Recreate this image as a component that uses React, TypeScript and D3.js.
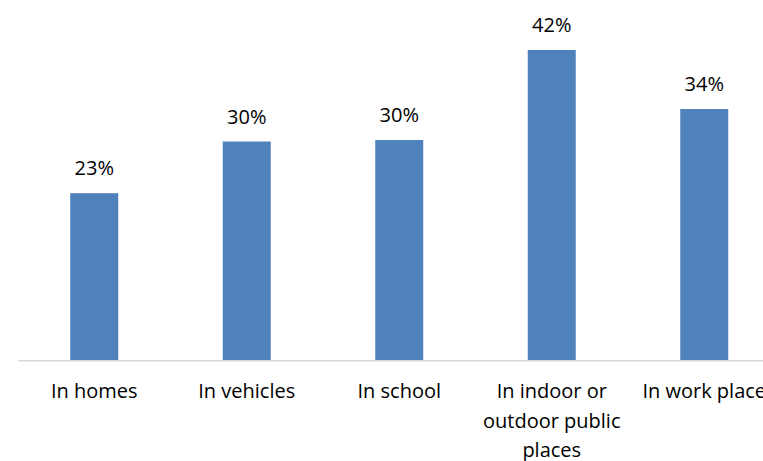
import React, { useEffect, useRef } from "react";
import * as d3 from "d3";

const categories = [
  "In homes",
  "In vehicles",
  "In school",
  "In indoor or outdoor public places",
  "In work place",
];
const values = [22.6, 29.6, 29.8, 42.0, 34.0];
const valueLabels = ["23%", "30%", "30%", "42%", "34%"];

const W = 763;
const H = 461;
const FONT = "'Open Sans', sans-serif";

export default function App() {
  const ref = useRef<SVGSVGElement | null>(null);

  useEffect(() => {
    const svg = d3.select(ref.current);
    svg.selectAll("*").remove();

    const baseline = 360;
    const x = d3.scaleBand<string>().domain(categories).range([18, 18 + 152.5 * categories.length]).padding(0);
    const y = d3.scaleLinear().domain([0, 42]).range([baseline, 50]);
    const barW = 48;

    const g = svg.append("g");

    g.selectAll("rect.bar")
      .data(categories)
      .enter()
      .append("rect")
      .attr("class", "bar")
      .attr("x", (d) => (x(d) as number) + x.bandwidth() / 2 - barW / 2)
      .attr("y", (_d, i) => y(values[i]))
      .attr("width", barW)
      .attr("height", (_d, i) => baseline - y(values[i]))
      .attr("fill", "#4F81BD");

    g.append("line")
      .attr("x1", x.range()[0])
      .attr("x2", x.range()[1])
      .attr("y1", baseline + 0.75)
      .attr("y2", baseline + 0.75)
      .attr("stroke", "#D9D9D9")
      .attr("stroke-width", 1.5);

    g.selectAll("text.val")
      .data(categories)
      .enter()
      .append("text")
      .attr("class", "val")
      .attr("x", (d) => (x(d) as number) + x.bandwidth() / 2)
      .attr("y", (_d, i) => y(values[i]) - 18)
      .attr("text-anchor", "middle")
      .attr("font-family", FONT)
      .attr("font-size", 20)
      .attr("fill", "#000")
      .text((_d, i) => valueLabels[i]);

    const maxW = x.bandwidth() - 4;
    categories.forEach((c) => {
      const cx = (x(c) as number) + x.bandwidth() / 2;
      const t = g
        .append("text")
        .attr("x", cx)
        .attr("y", baseline + 38)
        .attr("text-anchor", "middle")
        .attr("font-family", FONT)
        .attr("font-size", 20)
        .attr("fill", "#000");
      const words = c.split(" ");
      let line: string[] = [];
      let lineNo = 0;
      let tspan = t.append("tspan").attr("x", cx).attr("dy", 0);
      words.forEach((w) => {
        line.push(w);
        tspan.text(line.join(" "));
        const node = tspan.node() as SVGTextContentElement;
        if (node.getComputedTextLength() > maxW && line.length > 1) {
          line.pop();
          tspan.text(line.join(" "));
          line = [w];
          lineNo++;
          tspan = t.append("tspan").attr("x", cx).attr("dy", 29.5).text(w);
        }
      });
    });
  }, []);

  return (
    <svg
      ref={ref}
      width={W}
      height={H}
      style={{ position: "absolute", left: 0, top: 0, background: "#fff" }}
    />
  );
}
